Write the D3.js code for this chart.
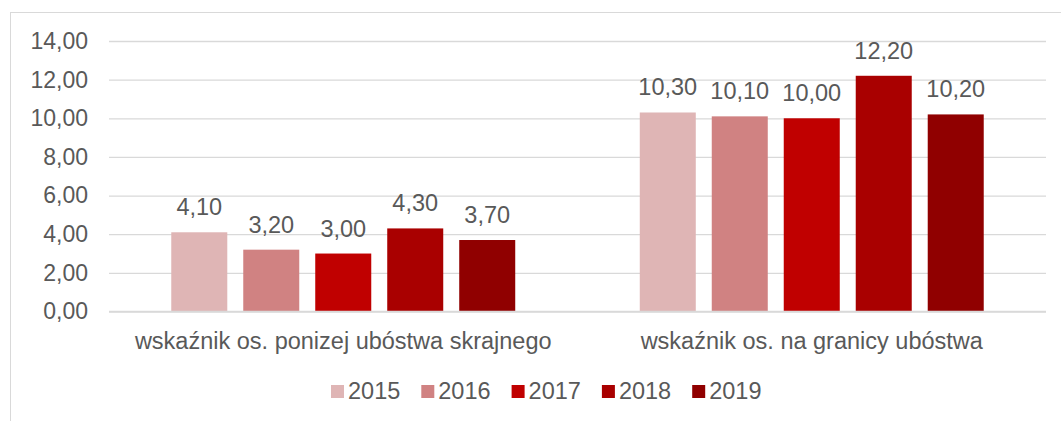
<!DOCTYPE html>
<html>
<head>
<meta charset="utf-8">
<script src="https://cdn.jsdelivr.net/npm/d3@7"></script>
<style>
  body { margin: 0; background: #fff; }
  text { font-family: "Liberation Sans", Arial, sans-serif; fill: #595959; }
</style>
</head>
<body>
<div id="chart"></div>
<script>
const WIDTH = 1061;
const HEIGHT = 421;

const categories = ['wskaźnik os. ponizej ubóstwa skrajnego', 'wskaźnik os. na granicy ubóstwa'];
const years = ['2015', '2016', '2017', '2018', '2019'];
const values2015 = [4.1, 10.3];
const values2016 = [3.2, 10.1];
const values2017 = [3.0, 10.0];
const values2018 = [4.3, 12.2];
const values2019 = [3.7, 10.2];
const yTicks = [0, 2, 4, 6, 8, 10, 12, 14];
const colors = ['#dfb5b5', '#d08282', '#c00000', '#a90000', '#900000'];

const series = [values2015, values2016, values2017, values2018, values2019];

const margin = { left: 109, right: 15, top: 41, bottom: 109 };

var svg = d3.select('#chart')
    .append('svg')
    .attr('width', WIDTH)
    .attr('height', HEIGHT);

// outer frame
svg.append('rect')
    .attr('x', 10.5)
    .attr('y', 12.5)
    .attr('width', WIDTH)
    .attr('height', HEIGHT)
    .attr('fill', 'none')
    .attr('stroke', '#d9d9d9');

let x0 = d3.scaleBand()
    .domain(categories)
    .range([margin.left, WIDTH - margin.right]);

let x1 = d3.scaleBand()
    .domain(years)
    .range([0, x0.bandwidth()])
    .paddingInner(0.222)
    .paddingOuter(0.865);

let y = d3.scaleLinear()
    .domain([0, 14])
    .range([HEIGHT - margin.bottom - 0.5, margin.top]);

let fmt = d => d3.format('.2f')(d).replace('.', ',');

// grid lines
let yAxis = d3.axisLeft(y)
    .tickValues(yTicks)
    .tickSize(-(WIDTH - margin.left - margin.right))
    .tickPadding(21)
    .tickFormat(fmt);

let gy = svg.append('g')
    .attr('transform', `translate(${margin.left},0)`)
    .call(yAxis);
gy.select('.domain').remove();
gy.selectAll('line').attr('stroke', '#d9d9d9').attr('stroke-width', 1.3);
gy.selectAll('text').style('font-size', '23px').attr('fill', '#595959');

// bars
let rows = [];
categories.forEach((c, ci) => {
    years.forEach((yr, si) => {
        rows.push({ cat: c, year: yr, value: series[si][ci], color: colors[si] });
    });
});

let groups = svg.append('g');
groups.selectAll('rect')
    .data(rows)
    .enter()
    .append('rect')
    .attr('x', d => x0(d.cat) + x1(d.year))
    .attr('y', d => y(d.value))
    .attr('width', x1.bandwidth())
    .attr('height', d => y(0) - y(d.value))
    .attr('fill', d => d.color);

groups.selectAll('text.lbl')
    .data(rows)
    .enter()
    .append('text')
    .attr('class', 'lbl')
    .attr('x', d => x0(d.cat) + x1(d.year) + x1.bandwidth() / 2)
    .attr('y', d => y(d.value) - 17)
    .attr('text-anchor', 'middle')
    .style('font-size', '23.5px')
    .text(d => fmt(d.value));

// x axis line
svg.append('line')
    .attr('x1', margin.left)
    .attr('x2', WIDTH - margin.right)
    .attr('y1', y(0))
    .attr('y2', y(0))
    .attr('stroke', '#d9d9d9')
    .attr('stroke-width', 1.3);

// category labels
svg.selectAll('text.cat')
    .data(categories)
    .enter()
    .append('text')
    .attr('class', 'cat')
    .attr('x', d => x0(d) + x0.bandwidth() / 2)
    .attr('y', y(0) + 37)
    .attr('text-anchor', 'middle')
    .style('font-size', '23.5px')
    .text(d => d);

// legend
let legend = svg.append('g')
    .attr('transform', 'translate(331,385)');
let items = legend.selectAll('g')
    .data(years)
    .enter()
    .append('g')
    .attr('transform', (d, i) => `translate(${i * 90.3},0)`);
items.append('rect')
    .attr('width', 13)
    .attr('height', 13)
    .attr('fill', (d, i) => colors[i]);
items.append('text')
    .attr('x', 17)
    .attr('y', 14)
    .style('font-size', '23.5px')
    .text(d => d);
</script>
</body>
</html>
